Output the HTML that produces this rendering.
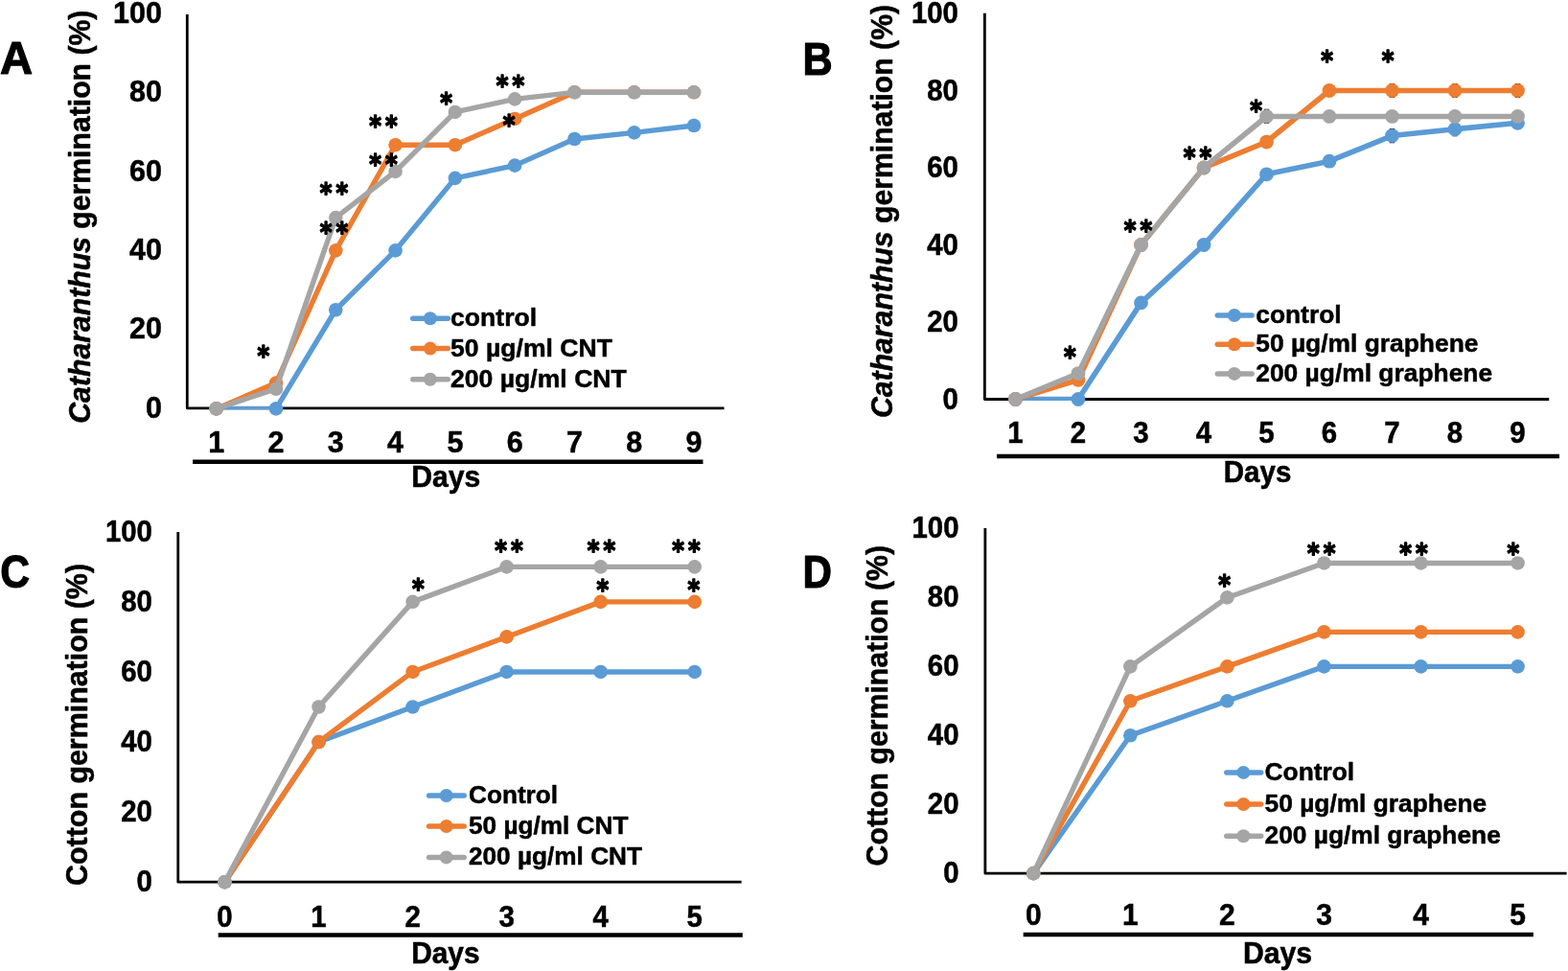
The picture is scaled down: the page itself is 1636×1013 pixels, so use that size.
<!DOCTYPE html>
<html lang="en">
<head>
<meta charset="utf-8">
<title>Germination of Catharanthus and cotton seeds with CNT and graphene</title>
<style>
html,body{margin:0;padding:0;background:#fff;}
body{width:1636px;height:1013px;overflow:hidden;}
svg{display:block;}
svg text{font-family:"Liberation Sans", sans-serif;font-weight:700;fill:#000;stroke:#000;stroke-width:0.5px;stroke-linejoin:round;}
svg text.lt{stroke-width:1.1px;}
svg text.st{font-family:"DejaVu Sans", "Liberation Sans", sans-serif;stroke-width:1.4px;letter-spacing:4.2px;}
.axis{fill:none;stroke:#000;stroke-linecap:butt;stroke-linejoin:round;}
.ln{fill:none;stroke-linecap:round;stroke-linejoin:round;}
</style>
</head>
<body>
<svg width="1636" height="1013" viewBox="0 0 1636 1013">
<rect x="0" y="0" width="1636" height="1013" fill="#ffffff"/>
<g id="panel-A">
<path class="axis" d="M195.3 15 V425.8 H755.5" stroke-width="2.8"/>
<clipPath id="clipA"><rect x="195.3" y="0" width="580.2" height="427.3"/></clipPath>
<g fill="#5b9bd5" stroke="#5b9bd5"><polyline class="ln" clip-path="url(#clipA)" points="225.7,426.4 287.99,426.4 350.28,323.25 412.57,261.36 474.86,185.85 537.15,172.65 599.44,145.01 661.73,138.41 724.02,130.98" stroke-width="5.4"/>
<circle cx="225.7" cy="426.4" r="7.3" stroke="none"/>
<circle cx="287.99" cy="426.4" r="7.3" stroke="none"/>
<circle cx="350.28" cy="323.25" r="7.3" stroke="none"/>
<circle cx="412.57" cy="261.36" r="7.3" stroke="none"/>
<circle cx="474.86" cy="185.85" r="7.3" stroke="none"/>
<circle cx="537.15" cy="172.65" r="7.3" stroke="none"/>
<circle cx="599.44" cy="145.01" r="7.3" stroke="none"/>
<circle cx="661.73" cy="138.41" r="7.3" stroke="none"/>
<circle cx="724.02" cy="130.98" r="7.3" stroke="none"/>
</g>
<g fill="#ed7d31" stroke="#ed7d31"><polyline class="ln" clip-path="url(#clipA)" points="225.7,426.4 287.99,399.58 350.28,261.36 412.57,151.2 474.86,151.2 537.15,123.96 599.44,96.32 661.73,96.32 724.02,96.32" stroke-width="5.4"/>
<circle cx="225.7" cy="426.4" r="7.3" stroke="none"/>
<circle cx="287.99" cy="399.58" r="7.3" stroke="none"/>
<circle cx="350.28" cy="261.36" r="7.3" stroke="none"/>
<circle cx="412.57" cy="151.2" r="7.3" stroke="none"/>
<circle cx="474.86" cy="151.2" r="7.3" stroke="none"/>
<circle cx="537.15" cy="123.96" r="7.3" stroke="none"/>
<circle cx="599.44" cy="96.32" r="7.3" stroke="none"/>
<circle cx="661.73" cy="96.32" r="7.3" stroke="none"/>
<circle cx="724.02" cy="96.32" r="7.3" stroke="none"/>
</g>
<g fill="#a5a5a5" stroke="#a5a5a5"><polyline class="ln" clip-path="url(#clipA)" points="225.7,426.4 287.99,405.77 350.28,227.11 412.57,178.84 474.86,116.95 537.15,103.33 599.44,96.32 661.73,96.32 724.02,96.32" stroke-width="5.4"/>
<circle cx="225.7" cy="426.4" r="7.3" stroke="none"/>
<circle cx="287.99" cy="405.77" r="7.3" stroke="none"/>
<circle cx="350.28" cy="227.11" r="7.3" stroke="none"/>
<circle cx="412.57" cy="178.84" r="7.3" stroke="none"/>
<circle cx="474.86" cy="116.95" r="7.3" stroke="none"/>
<circle cx="537.15" cy="103.33" r="7.3" stroke="none"/>
<circle cx="599.44" cy="96.32" r="7.3" stroke="none"/>
<circle cx="661.73" cy="96.32" r="7.3" stroke="none"/>
<circle cx="724.02" cy="96.32" r="7.3" stroke="none"/>
</g>
<text transform="translate(168.95 435.75) scale(1 1.04)" font-size="30.5" text-anchor="end">0</text>
<text transform="translate(168.95 353.43) scale(1 1.04)" font-size="30.5" text-anchor="end">20</text>
<text transform="translate(168.95 271.11) scale(1 1.04)" font-size="30.5" text-anchor="end">40</text>
<text transform="translate(168.95 188.79) scale(1 1.04)" font-size="30.5" text-anchor="end">60</text>
<text transform="translate(168.95 106.47) scale(1 1.04)" font-size="30.5" text-anchor="end">80</text>
<text transform="translate(168.95 24.15) scale(1 1.04)" font-size="30.5" text-anchor="end">100</text>
<text transform="translate(225.7 472.2) scale(1 1.04)" font-size="30.5" text-anchor="middle">1</text>
<text transform="translate(287.99 472.2) scale(1 1.04)" font-size="30.5" text-anchor="middle">2</text>
<text transform="translate(350.28 472.2) scale(1 1.04)" font-size="30.5" text-anchor="middle">3</text>
<text transform="translate(412.57 472.2) scale(1 1.04)" font-size="30.5" text-anchor="middle">4</text>
<text transform="translate(474.86 472.2) scale(1 1.04)" font-size="30.5" text-anchor="middle">5</text>
<text transform="translate(537.15 472.2) scale(1 1.04)" font-size="30.5" text-anchor="middle">6</text>
<text transform="translate(599.44 472.2) scale(1 1.04)" font-size="30.5" text-anchor="middle">7</text>
<text transform="translate(661.73 472.2) scale(1 1.04)" font-size="30.5" text-anchor="middle">8</text>
<text transform="translate(724.02 472.2) scale(1 1.04)" font-size="30.5" text-anchor="middle">9</text>
<path class="axis" d="M201.1 481.7 H733.5" stroke-width="4.5"/>
<text transform="translate(429.15 507.8) scale(1 1.04)" font-size="30.2" text-anchor="start">Days</text>
<text transform="translate(0.1 77.45) scale(1.04 1.04)" font-size="45.4" text-anchor="start" class="lt">A</text>
<text transform="translate(94 441.7) rotate(-90) scale(1 1.04)" font-size="30.2" text-anchor="start"><tspan font-style="italic">Catharanthus</tspan> germination (%)</text>
<path class="ln" d="M430.8 332.2 H467.3" stroke="#5b9bd5" stroke-width="5.5"/>
<circle cx="448.9" cy="332.2" r="7.0" fill="#5b9bd5"/>
<text transform="translate(470 340.1) scale(1 0.98)" font-size="26.6" text-anchor="start">control</text>
<path class="ln" d="M430.8 363.6 H467.3" stroke="#ed7d31" stroke-width="5.5"/>
<circle cx="448.9" cy="363.6" r="7.0" fill="#ed7d31"/>
<text transform="translate(470 371.5) scale(1 0.98)" font-size="26.6" text-anchor="start">50 µg/ml CNT</text>
<path class="ln" d="M430.8 395.7 H467.3" stroke="#a5a5a5" stroke-width="5.5"/>
<circle cx="448.9" cy="395.7" r="7.0" fill="#a5a5a5"/>
<text transform="translate(470 403.6) scale(1 0.98)" font-size="26.6" text-anchor="start">200 µg/ml CNT</text>
<text transform="translate(268.61 381.42) scale(0.97 1.1)" font-size="25" text-anchor="start" class="st">*</text>
<text transform="translate(333.73 211.43) scale(0.97 1.1)" font-size="25" text-anchor="start" class="st">**</text>
<text transform="translate(333.73 251.62) scale(0.97 1.1)" font-size="25" text-anchor="start" class="st">**</text>
<text transform="translate(385.23 141.33) scale(0.97 1.1)" font-size="25" text-anchor="start" class="st">**</text>
<text transform="translate(385.23 181.43) scale(0.97 1.1)" font-size="25" text-anchor="start" class="st">**</text>
<text transform="translate(459.31 116.73) scale(0.97 1.1)" font-size="25" text-anchor="start" class="st">*</text>
<text transform="translate(517.63 99.43) scale(0.97 1.1)" font-size="25" text-anchor="start" class="st">**</text>
<text transform="translate(524.71 140.03) scale(0.97 1.1)" font-size="25" text-anchor="start" class="st">*</text>
</g>
<g id="panel-B">
<path class="axis" d="M1027.4 13.8 V416.5 H1616.2" stroke-width="2.8"/>
<clipPath id="clipB"><rect x="1027.4" y="0" width="608.8" height="418"/></clipPath>
<path class="axis" d="M1318.9 114.47 h5.2 M1318.9 128.47 h5.2" stroke-width="1.2"/>
<path class="axis" d="M1449.9 87.5 h5.2 M1449.9 101.5 h5.2" stroke-width="1.2"/>
<path class="axis" d="M1515.4 87.5 h5.2 M1515.4 101.5 h5.2" stroke-width="1.2"/>
<path class="axis" d="M1580.9 87.5 h5.2 M1580.9 101.5 h5.2" stroke-width="1.2"/>
<path class="axis" d="M1449.9 134.59 h5.2 M1449.9 148.59 h5.2" stroke-width="1.2"/>
<path class="axis" d="M1515.4 127.75 h5.2 M1515.4 141.75 h5.2" stroke-width="1.2"/>
<g fill="#5b9bd5" stroke="#5b9bd5"><polyline class="ln" clip-path="url(#clipB)" points="1059.5,416.5 1125,416.5 1190.5,315.88 1256,255.5 1321.5,181.84 1387,168.16 1452.5,141.59 1518,134.75 1583.5,128.31" stroke-width="5.6"/>
<circle cx="1059.5" cy="416.5" r="7.4" stroke="none"/>
<circle cx="1125" cy="416.5" r="7.4" stroke="none"/>
<circle cx="1190.5" cy="315.88" r="7.4" stroke="none"/>
<circle cx="1256" cy="255.5" r="7.4" stroke="none"/>
<circle cx="1321.5" cy="181.84" r="7.4" stroke="none"/>
<circle cx="1387" cy="168.16" r="7.4" stroke="none"/>
<circle cx="1452.5" cy="141.59" r="7.4" stroke="none"/>
<circle cx="1518" cy="134.75" r="7.4" stroke="none"/>
<circle cx="1583.5" cy="128.31" r="7.4" stroke="none"/>
</g>
<g fill="#ed7d31" stroke="#ed7d31"><polyline class="ln" clip-path="url(#clipB)" points="1059.5,416.5 1125,396.38 1190.5,255.5 1256,175 1321.5,148.03 1387,94.5 1452.5,94.5 1518,94.5 1583.5,94.5" stroke-width="5.6"/>
<circle cx="1059.5" cy="416.5" r="7.4" stroke="none"/>
<circle cx="1125" cy="396.38" r="7.4" stroke="none"/>
<circle cx="1190.5" cy="255.5" r="7.4" stroke="none"/>
<circle cx="1256" cy="175" r="7.4" stroke="none"/>
<circle cx="1321.5" cy="148.03" r="7.4" stroke="none"/>
<circle cx="1387" cy="94.5" r="7.4" stroke="none"/>
<circle cx="1452.5" cy="94.5" r="7.4" stroke="none"/>
<circle cx="1518" cy="94.5" r="7.4" stroke="none"/>
<circle cx="1583.5" cy="94.5" r="7.4" stroke="none"/>
</g>
<g fill="#a5a5a5" stroke="#a5a5a5"><polyline class="ln" clip-path="url(#clipB)" points="1059.5,416.5 1125,389.53 1190.5,255.5 1256,175 1321.5,121.47 1387,121.47 1452.5,121.47 1518,121.47 1583.5,121.47" stroke-width="5.6"/>
<circle cx="1059.5" cy="416.5" r="7.4" stroke="none"/>
<circle cx="1125" cy="389.53" r="7.4" stroke="none"/>
<circle cx="1190.5" cy="255.5" r="7.4" stroke="none"/>
<circle cx="1256" cy="175" r="7.4" stroke="none"/>
<circle cx="1321.5" cy="121.47" r="7.4" stroke="none"/>
<circle cx="1387" cy="121.47" r="7.4" stroke="none"/>
<circle cx="1452.5" cy="121.47" r="7.4" stroke="none"/>
<circle cx="1518" cy="121.47" r="7.4" stroke="none"/>
<circle cx="1583.5" cy="121.47" r="7.4" stroke="none"/>
</g>
<text transform="translate(999.95 426.94) scale(1 1.04)" font-size="29.4" text-anchor="end">0</text>
<text transform="translate(999.95 346.43) scale(1 1.04)" font-size="29.4" text-anchor="end">20</text>
<text transform="translate(999.95 265.92) scale(1 1.04)" font-size="29.4" text-anchor="end">40</text>
<text transform="translate(999.95 185.41) scale(1 1.04)" font-size="29.4" text-anchor="end">60</text>
<text transform="translate(999.95 104.9) scale(1 1.04)" font-size="29.4" text-anchor="end">80</text>
<text transform="translate(999.95 24.39) scale(1 1.04)" font-size="29.4" text-anchor="end">100</text>
<text transform="translate(1059.5 462.1) scale(1 1.04)" font-size="29.4" text-anchor="middle">1</text>
<text transform="translate(1125 462.1) scale(1 1.04)" font-size="29.4" text-anchor="middle">2</text>
<text transform="translate(1190.5 462.1) scale(1 1.04)" font-size="29.4" text-anchor="middle">3</text>
<text transform="translate(1256 462.1) scale(1 1.04)" font-size="29.4" text-anchor="middle">4</text>
<text transform="translate(1321.5 462.1) scale(1 1.04)" font-size="29.4" text-anchor="middle">5</text>
<text transform="translate(1387 462.1) scale(1 1.04)" font-size="29.4" text-anchor="middle">6</text>
<text transform="translate(1452.5 462.1) scale(1 1.04)" font-size="29.4" text-anchor="middle">7</text>
<text transform="translate(1518 462.1) scale(1 1.04)" font-size="29.4" text-anchor="middle">8</text>
<text transform="translate(1583.5 462.1) scale(1 1.04)" font-size="29.4" text-anchor="middle">9</text>
<path class="axis" d="M1040.1 476 H1627" stroke-width="4.5"/>
<text transform="translate(1276.8 503.1) scale(1 1.04)" font-size="29.5" text-anchor="start">Days</text>
<text transform="translate(837.6 77.7) scale(0.95 1.04)" font-size="45.4" text-anchor="start" class="lt">B</text>
<text transform="translate(931 436) rotate(-90) scale(1 1.04)" font-size="30.2" text-anchor="start"><tspan font-style="italic">Catharanthus</tspan> germination (%)</text>
<path class="ln" d="M1270.3 329 H1306.1" stroke="#5b9bd5" stroke-width="5.5"/>
<circle cx="1287.9" cy="329" r="7.0" fill="#5b9bd5"/>
<text transform="translate(1310.2 337) scale(1 0.98)" font-size="26.4" text-anchor="start">control</text>
<path class="ln" d="M1270.3 359.3 H1306.1" stroke="#ed7d31" stroke-width="5.5"/>
<circle cx="1287.9" cy="359.3" r="7.0" fill="#ed7d31"/>
<text transform="translate(1310.2 367.3) scale(1 0.98)" font-size="26.4" text-anchor="start">50 µg/ml graphene</text>
<path class="ln" d="M1270.3 389.9 H1306.1" stroke="#a5a5a5" stroke-width="5.5"/>
<circle cx="1287.9" cy="389.9" r="7.0" fill="#a5a5a5"/>
<text transform="translate(1310.2 397.9) scale(1 0.98)" font-size="26.4" text-anchor="start">200 µg/ml graphene</text>
<text transform="translate(1110.01 381.52) scale(0.97 1.1)" font-size="25" text-anchor="start" class="st">*</text>
<text transform="translate(1172.63 250.43) scale(0.97 1.1)" font-size="25" text-anchor="start" class="st">**</text>
<text transform="translate(1234.83 173.93) scale(0.97 1.1)" font-size="25" text-anchor="start" class="st">**</text>
<text transform="translate(1304.31 124.53) scale(0.97 1.1)" font-size="25" text-anchor="start" class="st">*</text>
<text transform="translate(1378.31 72.83) scale(0.97 1.1)" font-size="25" text-anchor="start" class="st">*</text>
<text transform="translate(1441.81 72.83) scale(0.97 1.1)" font-size="25" text-anchor="start" class="st">*</text>
</g>
<g id="panel-C">
<path class="axis" d="M185.8 554.9 V920.2 H773.6" stroke-width="2.8"/>
<clipPath id="clipC"><rect x="185.8" y="0" width="607.8" height="921.7"/></clipPath>
<g fill="#5b9bd5" stroke="#5b9bd5"><polyline class="ln" clip-path="url(#clipC)" points="234.5,920.2 332.55,774.04 430.6,737.5 528.65,700.96 626.7,700.96 724.75,700.96" stroke-width="5.4"/>
<circle cx="234.5" cy="920.2" r="7.3" stroke="none"/>
<circle cx="332.55" cy="774.04" r="7.3" stroke="none"/>
<circle cx="430.6" cy="737.5" r="7.3" stroke="none"/>
<circle cx="528.65" cy="700.96" r="7.3" stroke="none"/>
<circle cx="626.7" cy="700.96" r="7.3" stroke="none"/>
<circle cx="724.75" cy="700.96" r="7.3" stroke="none"/>
</g>
<g fill="#ed7d31" stroke="#ed7d31"><polyline class="ln" clip-path="url(#clipC)" points="234.5,920.2 332.55,774.04 430.6,700.96 528.65,664.42 626.7,627.88 724.75,627.88" stroke-width="5.4"/>
<circle cx="234.5" cy="920.2" r="7.3" stroke="none"/>
<circle cx="332.55" cy="774.04" r="7.3" stroke="none"/>
<circle cx="430.6" cy="700.96" r="7.3" stroke="none"/>
<circle cx="528.65" cy="664.42" r="7.3" stroke="none"/>
<circle cx="626.7" cy="627.88" r="7.3" stroke="none"/>
<circle cx="724.75" cy="627.88" r="7.3" stroke="none"/>
</g>
<g fill="#a5a5a5" stroke="#a5a5a5"><polyline class="ln" clip-path="url(#clipC)" points="234.5,920.2 332.55,737.5 430.6,627.88 528.65,591.34 626.7,591.34 724.75,591.34" stroke-width="5.4"/>
<circle cx="234.5" cy="920.2" r="7.3" stroke="none"/>
<circle cx="332.55" cy="737.5" r="7.3" stroke="none"/>
<circle cx="430.6" cy="627.88" r="7.3" stroke="none"/>
<circle cx="528.65" cy="591.34" r="7.3" stroke="none"/>
<circle cx="626.7" cy="591.34" r="7.3" stroke="none"/>
<circle cx="724.75" cy="591.34" r="7.3" stroke="none"/>
</g>
<text transform="translate(158.95 930.15) scale(1 1.04)" font-size="29.4" text-anchor="end">0</text>
<text transform="translate(158.95 857.07) scale(1 1.04)" font-size="29.4" text-anchor="end">20</text>
<text transform="translate(158.95 783.99) scale(1 1.04)" font-size="29.4" text-anchor="end">40</text>
<text transform="translate(158.95 710.91) scale(1 1.04)" font-size="29.4" text-anchor="end">60</text>
<text transform="translate(158.95 637.83) scale(1 1.04)" font-size="29.4" text-anchor="end">80</text>
<text transform="translate(158.95 564.75) scale(1 1.04)" font-size="29.4" text-anchor="end">100</text>
<text transform="translate(234.5 966.6) scale(1 1.04)" font-size="29.4" text-anchor="middle">0</text>
<text transform="translate(332.55 966.6) scale(1 1.04)" font-size="29.4" text-anchor="middle">1</text>
<text transform="translate(430.6 966.6) scale(1 1.04)" font-size="29.4" text-anchor="middle">2</text>
<text transform="translate(528.65 966.6) scale(1 1.04)" font-size="29.4" text-anchor="middle">3</text>
<text transform="translate(626.7 966.6) scale(1 1.04)" font-size="29.4" text-anchor="middle">4</text>
<text transform="translate(724.75 966.6) scale(1 1.04)" font-size="29.4" text-anchor="middle">5</text>
<path class="axis" d="M227.7 975.4 H774.8" stroke-width="4.5"/>
<text transform="translate(429.15 1005.3) scale(1 1.04)" font-size="29.9" text-anchor="start">Days</text>
<text transform="translate(0.3 613.3) scale(0.94 1.04)" font-size="45.4" text-anchor="start" class="lt">C</text>
<text transform="translate(90.5 923.9) rotate(-90) scale(1 1.04)" font-size="30.4" text-anchor="start">Cotton germination (%)</text>
<path class="ln" d="M447.6 830 H484.2" stroke="#5b9bd5" stroke-width="5.5"/>
<circle cx="465.7" cy="830" r="7.0" fill="#5b9bd5"/>
<text transform="translate(489 837.9) scale(1 0.98)" font-size="26.2" text-anchor="start">Control</text>
<path class="ln" d="M447.6 862 H484.2" stroke="#ed7d31" stroke-width="5.5"/>
<circle cx="465.7" cy="862" r="7.0" fill="#ed7d31"/>
<text transform="translate(489 869.9) scale(1 0.98)" font-size="26.2" text-anchor="start">50 µg/ml CNT</text>
<path class="ln" d="M447.6 894.4 H484.2" stroke="#a5a5a5" stroke-width="5.5"/>
<circle cx="465.7" cy="894.4" r="7.0" fill="#a5a5a5"/>
<text transform="translate(489 902.3) scale(1 0.98)" font-size="26.2" text-anchor="start">200 µg/ml CNT</text>
<text transform="translate(429.91 624.22) scale(0.97 1.1)" font-size="25" text-anchor="start" class="st">*</text>
<text transform="translate(516.13 584.12) scale(0.97 1.1)" font-size="25" text-anchor="start" class="st">**</text>
<text transform="translate(612.63 584.12) scale(0.97 1.1)" font-size="25" text-anchor="start" class="st">**</text>
<text transform="translate(701.13 584.12) scale(0.97 1.1)" font-size="25" text-anchor="start" class="st">**</text>
<text transform="translate(622.51 624.72) scale(0.97 1.1)" font-size="25" text-anchor="start" class="st">*</text>
<text transform="translate(717.51 624.72) scale(0.97 1.1)" font-size="25" text-anchor="start" class="st">*</text>
</g>
<g id="panel-D">
<path class="axis" d="M1027.9 551.1 V911.1 H1634.6" stroke-width="2.8"/>
<clipPath id="clipD"><rect x="1027.9" y="0" width="626.7" height="912.6"/></clipPath>
<g fill="#5b9bd5" stroke="#5b9bd5"><polyline class="ln" clip-path="url(#clipD)" points="1078.3,911.1 1179.36,767.26 1280.42,731.3 1381.48,695.34 1482.54,695.34 1583.6,695.34" stroke-width="5.4"/>
<circle cx="1078.3" cy="911.1" r="7.3" stroke="none"/>
<circle cx="1179.36" cy="767.26" r="7.3" stroke="none"/>
<circle cx="1280.42" cy="731.3" r="7.3" stroke="none"/>
<circle cx="1381.48" cy="695.34" r="7.3" stroke="none"/>
<circle cx="1482.54" cy="695.34" r="7.3" stroke="none"/>
<circle cx="1583.6" cy="695.34" r="7.3" stroke="none"/>
</g>
<g fill="#ed7d31" stroke="#ed7d31"><polyline class="ln" clip-path="url(#clipD)" points="1078.3,911.1 1179.36,731.3 1280.42,695.34 1381.48,659.38 1482.54,659.38 1583.6,659.38" stroke-width="5.4"/>
<circle cx="1078.3" cy="911.1" r="7.3" stroke="none"/>
<circle cx="1179.36" cy="731.3" r="7.3" stroke="none"/>
<circle cx="1280.42" cy="695.34" r="7.3" stroke="none"/>
<circle cx="1381.48" cy="659.38" r="7.3" stroke="none"/>
<circle cx="1482.54" cy="659.38" r="7.3" stroke="none"/>
<circle cx="1583.6" cy="659.38" r="7.3" stroke="none"/>
</g>
<g fill="#a5a5a5" stroke="#a5a5a5"><polyline class="ln" clip-path="url(#clipD)" points="1078.3,911.1 1179.36,695.34 1280.42,623.42 1381.48,587.46 1482.54,587.46 1583.6,587.46" stroke-width="5.4"/>
<circle cx="1078.3" cy="911.1" r="7.3" stroke="none"/>
<circle cx="1179.36" cy="695.34" r="7.3" stroke="none"/>
<circle cx="1280.42" cy="623.42" r="7.3" stroke="none"/>
<circle cx="1381.48" cy="587.46" r="7.3" stroke="none"/>
<circle cx="1482.54" cy="587.46" r="7.3" stroke="none"/>
<circle cx="1583.6" cy="587.46" r="7.3" stroke="none"/>
</g>
<text transform="translate(1000.55 920.6) scale(1 1.04)" font-size="29.4" text-anchor="end">0</text>
<text transform="translate(1000.55 848.64) scale(1 1.04)" font-size="29.4" text-anchor="end">20</text>
<text transform="translate(1000.55 776.68) scale(1 1.04)" font-size="29.4" text-anchor="end">40</text>
<text transform="translate(1000.55 704.72) scale(1 1.04)" font-size="29.4" text-anchor="end">60</text>
<text transform="translate(1000.55 632.76) scale(1 1.04)" font-size="29.4" text-anchor="end">80</text>
<text transform="translate(1000.55 560.8) scale(1 1.04)" font-size="29.4" text-anchor="end">100</text>
<text transform="translate(1078.3 964.6) scale(1 1.04)" font-size="30" text-anchor="middle">0</text>
<text transform="translate(1179.36 964.6) scale(1 1.04)" font-size="30" text-anchor="middle">1</text>
<text transform="translate(1280.42 964.6) scale(1 1.04)" font-size="30" text-anchor="middle">2</text>
<text transform="translate(1381.48 964.6) scale(1 1.04)" font-size="30" text-anchor="middle">3</text>
<text transform="translate(1482.54 964.6) scale(1 1.04)" font-size="30" text-anchor="middle">4</text>
<text transform="translate(1583.6 964.6) scale(1 1.04)" font-size="30" text-anchor="middle">5</text>
<path class="axis" d="M1067.7 975 H1599.9" stroke-width="4.5"/>
<text transform="translate(1296.9 1004.8) scale(1 1.04)" font-size="30.2" text-anchor="start">Days</text>
<text transform="translate(837.6 613.3) scale(0.93 1.04)" font-size="45.4" text-anchor="start" class="lt">D</text>
<text transform="translate(925.9 903.4) rotate(-90) scale(1 1.04)" font-size="30.25" text-anchor="start">Cotton germination (%)</text>
<path class="ln" d="M1279.8 805.9 H1315.7" stroke="#5b9bd5" stroke-width="5.5"/>
<circle cx="1297.4" cy="805.9" r="7.0" fill="#5b9bd5"/>
<text transform="translate(1319.6 813.9) scale(1 0.98)" font-size="26.33" text-anchor="start">Control</text>
<path class="ln" d="M1279.8 839 H1315.7" stroke="#ed7d31" stroke-width="5.5"/>
<circle cx="1297.4" cy="839" r="7.0" fill="#ed7d31"/>
<text transform="translate(1319.6 847) scale(1 0.98)" font-size="26.33" text-anchor="start">50 µg/ml graphene</text>
<path class="ln" d="M1279.8 872.3 H1315.7" stroke="#a5a5a5" stroke-width="5.5"/>
<circle cx="1297.4" cy="872.3" r="7.0" fill="#a5a5a5"/>
<text transform="translate(1319.6 880.3) scale(1 0.98)" font-size="26.33" text-anchor="start">200 µg/ml graphene</text>
<text transform="translate(1271.21 619.72) scale(0.97 1.1)" font-size="25" text-anchor="start" class="st">*</text>
<text transform="translate(1363.93 587.12) scale(0.97 1.1)" font-size="25" text-anchor="start" class="st">**</text>
<text transform="translate(1460.23 587.12) scale(0.97 1.1)" font-size="25" text-anchor="start" class="st">**</text>
<text transform="translate(1572.61 587.12) scale(0.97 1.1)" font-size="25" text-anchor="start" class="st">*</text>
</g>
</svg>
</body>
</html>
